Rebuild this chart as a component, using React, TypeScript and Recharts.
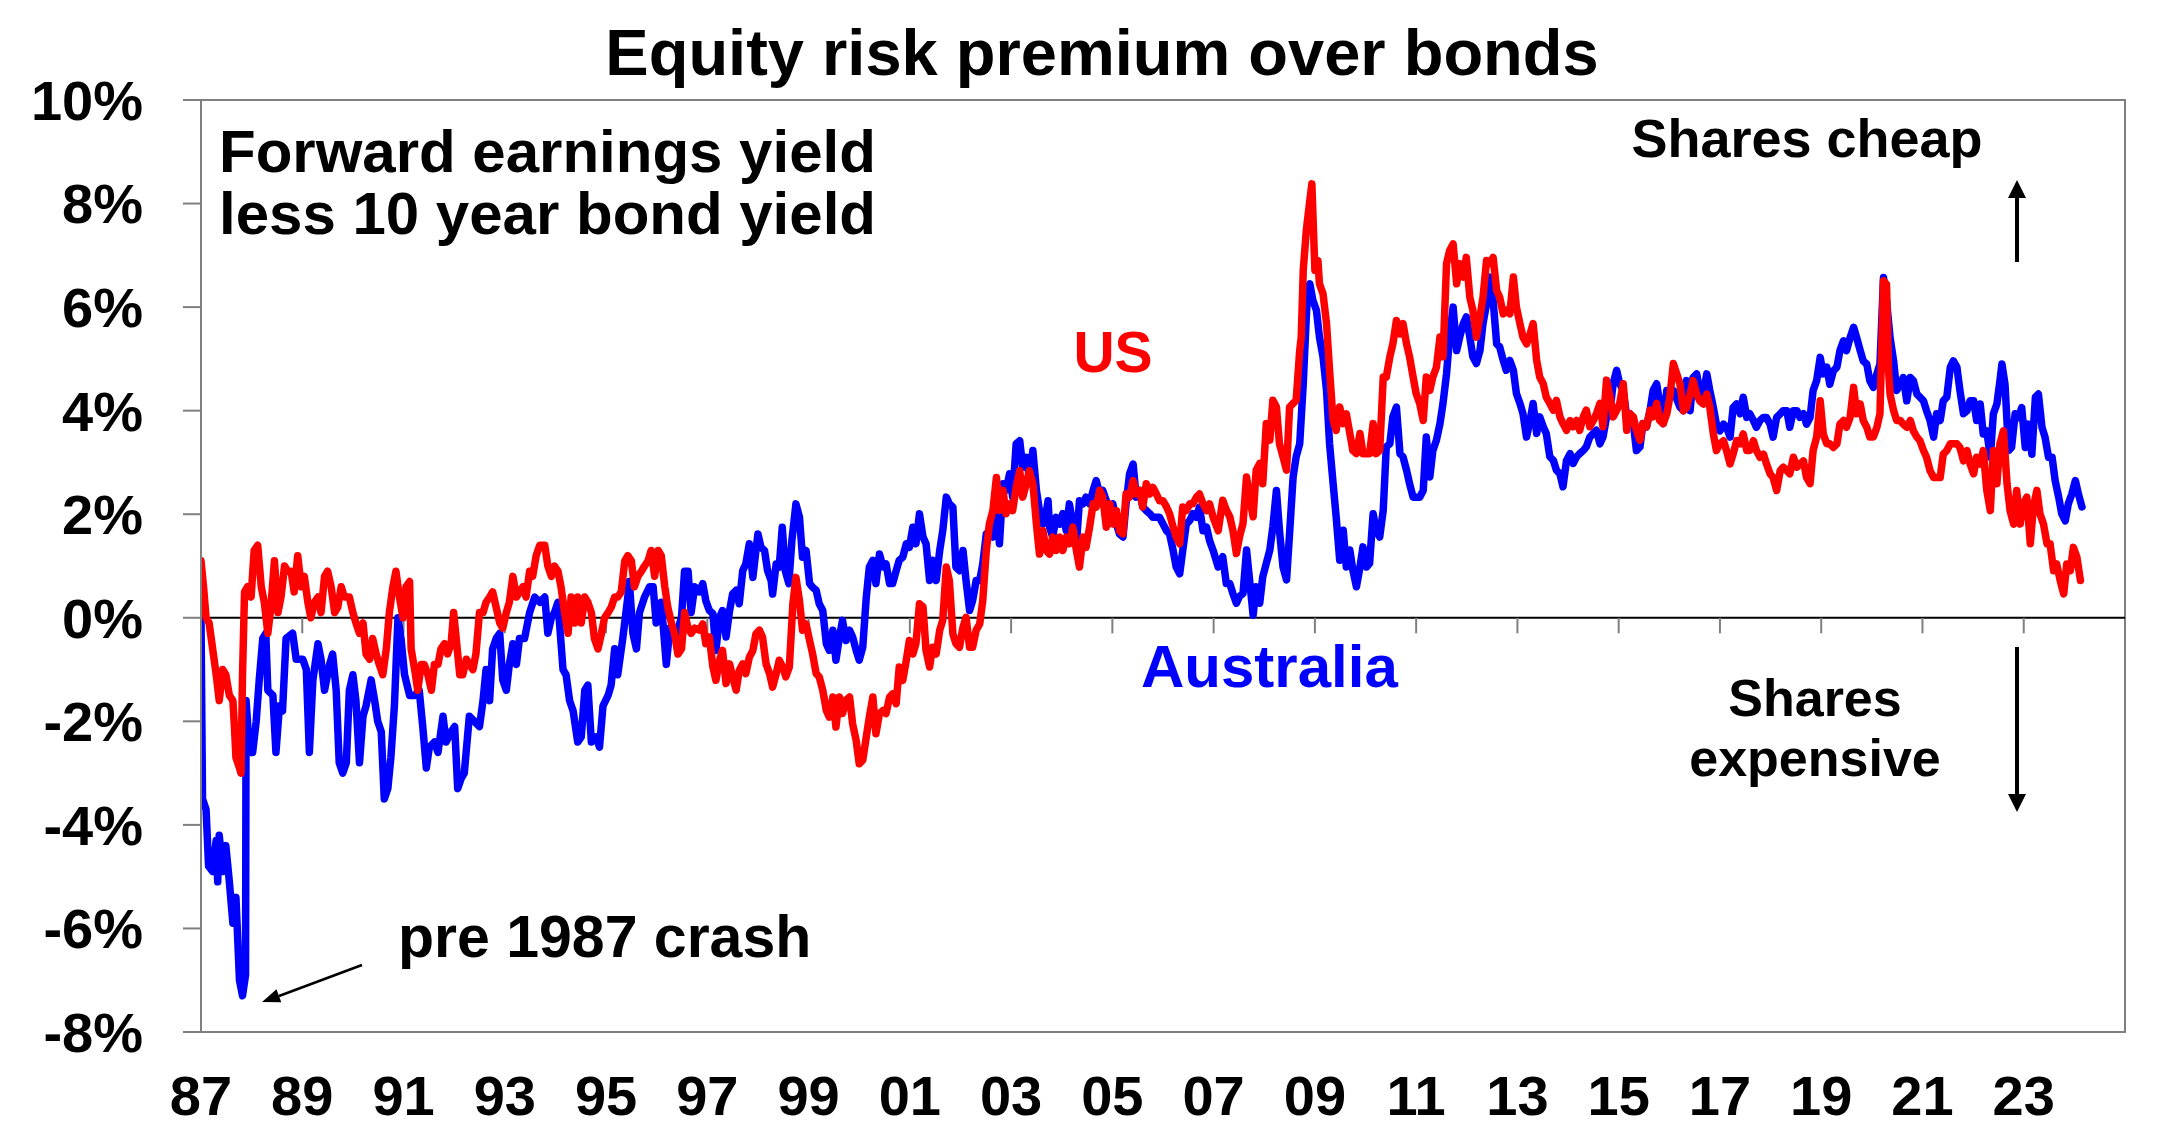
import { LineChart, Line, XAxis, YAxis, ReferenceLine, ReferenceArea } from 'recharts';

const FONT = '"Liberation Sans", Arial, Helvetica, sans-serif';
const AXIS_GREY = '#7f7f7f';

// Forward earnings yield less 10 year bond yield, [year, % points]
const AUSTRALIA: [number, number][] = [
  [1987.00, 0.0], [1987.03, -3.5], [1987.10, -3.7], [1987.15, -4.8], [1987.23, -4.9], [1987.30, -4.3],
  [1987.33, -5.1], [1987.36, -4.2], [1987.43, -4.9], [1987.49, -4.4], [1987.56, -5.1], [1987.63, -5.9],
  [1987.69, -5.4], [1987.76, -7.0], [1987.82, -7.3], [1987.88, -6.9], [1987.89, -1.6], [1987.96, -2.6],
  [1988.02, -2.6], [1988.09, -2.0], [1988.15, -1.2], [1988.22, -0.4], [1988.28, -0.3], [1988.32, -1.4],
  [1988.42, -1.5], [1988.48, -2.6], [1988.55, -1.7], [1988.61, -1.8], [1988.68, -0.4], [1988.81, -0.3],
  [1988.88, -0.8], [1989.01, -0.8], [1989.08, -1.0], [1989.14, -2.6], [1989.21, -1.2], [1989.31, -0.5],
  [1989.37, -0.8], [1989.44, -1.4], [1989.54, -0.9], [1989.60, -0.7], [1989.67, -1.4], [1989.73, -2.8],
  [1989.80, -3.0], [1989.87, -2.8], [1989.93, -1.4], [1990.00, -1.1], [1990.06, -1.6], [1990.13, -2.8],
  [1990.20, -1.9], [1990.26, -1.7], [1990.36, -1.2], [1990.43, -1.6], [1990.49, -2.0], [1990.56, -2.2],
  [1990.62, -3.5], [1990.69, -3.3], [1990.75, -2.7], [1990.82, -1.7], [1990.89, 0.0], [1990.95, -0.4],
  [1991.02, -1.1], [1991.12, -1.5], [1991.22, -1.5], [1991.31, -1.4], [1991.38, -2.1], [1991.45, -2.9],
  [1991.51, -2.5], [1991.61, -2.4], [1991.68, -2.6], [1991.78, -1.9], [1991.84, -2.4], [1991.94, -2.2],
  [1992.01, -2.1], [1992.07, -3.3], [1992.14, -3.1], [1992.20, -3.0], [1992.30, -1.9], [1992.40, -2.0],
  [1992.50, -2.1], [1992.57, -1.6], [1992.63, -1.0], [1992.70, -1.6], [1992.76, -0.6], [1992.83, -0.4],
  [1992.90, -0.3], [1992.96, -1.2], [1993.03, -1.4], [1993.09, -0.9], [1993.16, -0.5], [1993.23, -0.9],
  [1993.29, -0.4], [1993.39, -0.4], [1993.49, 0.1], [1993.59, 0.4], [1993.69, 0.3], [1993.79, 0.4],
  [1993.85, -0.3], [1993.92, 0.0], [1993.98, 0.1], [1994.05, 0.3], [1994.15, -1.0], [1994.21, -1.1],
  [1994.28, -1.6], [1994.35, -1.8], [1994.44, -2.4], [1994.51, -2.3], [1994.58, -1.4], [1994.64, -1.3],
  [1994.71, -2.4], [1994.81, -2.3], [1994.87, -2.5], [1994.94, -1.7], [1995.04, -1.5], [1995.10, -1.3],
  [1995.17, -0.6], [1995.23, -1.1], [1995.33, -0.4], [1995.43, 0.4], [1995.46, 0.7], [1995.53, -0.3],
  [1995.60, -0.6], [1995.66, 0.1], [1995.76, 0.4], [1995.86, 0.6], [1995.93, 0.6], [1995.99, -0.1],
  [1996.09, 0.3], [1996.19, -0.9], [1996.26, -0.2], [1996.32, -0.4], [1996.39, -0.3], [1996.49, 0.0],
  [1996.55, 0.9], [1996.62, 0.9], [1996.68, 0.1], [1996.75, 0.6],
  [1996.84, 0.5], [1996.91, 0.66], [1996.97, 0.33], [1997.04, 0.14], [1997.11, 0.08], [1997.17, -0.63],
  [1997.24, 0.0], [1997.30, 0.14], [1997.37, -0.37], [1997.44, 0.14], [1997.50, 0.46], [1997.57, 0.53],
  [1997.63, 0.27], [1997.70, 0.91], [1997.76, 1.04], [1997.83, 1.43], [1997.90, 0.78], [1997.96, 1.30],
  [1998.00, 1.62], [1998.06, 1.36], [1998.13, 1.30], [1998.19, 0.91], [1998.26, 0.72], [1998.29, 0.46],
  [1998.36, 1.04], [1998.42, 0.98], [1998.48, 1.75], [1998.54, 0.91], [1998.61, 0.66], [1998.67, 1.49],
  [1998.75, 2.20], [1998.82, 1.94], [1998.88, 1.17], [1998.95, 1.30], [1999.02, 0.66], [1999.08, 0.59],
  [1999.15, 0.53], [1999.21, 0.27], [1999.28, 0.14], [1999.35, -0.50], [1999.41, -0.63], [1999.48, -0.24],
  [1999.54, -0.82], [1999.61, -0.37], [1999.67, -0.05], [1999.74, -0.44], [1999.81, -0.24], [1999.87, -0.37],
  [1999.94, -0.63], [2000.00, -0.82], [2000.07, -0.57], [2000.14, 0.40], [2000.20, 0.98], [2000.27, 1.11],
  [2000.33, 0.66], [2000.40, 1.23], [2000.47, 0.98], [2000.53, 1.04], [2000.60, 0.66], [2000.66, 0.66],
  [2000.73, 0.91], [2000.79, 1.11], [2000.86, 1.17], [2000.93, 1.43], [2000.99, 1.36], [2001.06, 1.75],
  [2001.12, 1.43], [2001.19, 2.01], [2001.26, 1.56], [2001.32, 1.43], [2001.39, 0.72], [2001.45, 1.11],
  [2001.52, 0.72], [2001.59, 1.30], [2001.65, 1.68], [2001.72, 2.33], [2001.78, 2.20], [2001.85, 2.14],
  [2001.91, 0.98], [2001.98, 0.91], [2002.05, 1.30], [2002.11, 0.72], [2002.18, 0.14], [2002.24, 0.33],
  [2002.31, 0.72], [2002.38, 0.72], [2002.44, 1.04], [2002.51, 1.62], [2002.57, 1.68], [2002.64, 1.56],
  [2002.71, 2.07], [2002.77, 1.43], [2002.84, 2.59], [2002.90, 2.46], [2002.97, 2.78], [2003.03, 2.33],
  [2003.10, 3.36], [2003.17, 3.42], [2003.23, 2.91], [2003.30, 3.10], [2003.36, 2.71], [2003.43, 3.23],
  [2003.50, 2.46], [2003.56, 2.07], [2003.63, 1.81], [2003.69, 2.01], [2003.73, 2.26], [2003.76, 1.75],
  [2003.82, 1.56], [2003.89, 1.94], [2003.96, 1.81], [2004.02, 2.01], [2004.09, 1.68], [2004.15, 2.20],
  [2004.22, 1.81], [2004.29, 1.43], [2004.35, 2.26], [2004.42, 2.20], [2004.48, 2.33], [2004.55, 2.20],
  [2004.62, 2.46], [2004.68, 2.65], [2004.75, 2.39], [2004.81, 2.46], [2004.88, 2.26], [2004.95, 2.14],
  [2005.01, 2.20], [2005.08, 1.81], [2005.14, 1.62], [2005.21, 1.56], [2005.27, 2.20], [2005.34, 2.78],
  [2005.41, 2.97], [2005.47, 2.33], [2005.54, 2.46], [2005.60, 2.14], [2005.67, 2.07], [2005.74, 2.01],
  [2005.80, 1.94], [2005.87, 1.94], [2005.93, 1.94], [2006.00, 1.81], [2006.07, 1.68], [2006.13, 1.62],
  [2006.20, 1.30], [2006.26, 0.98], [2006.33, 0.85], [2006.39, 1.30], [2006.46, 1.81], [2006.53, 1.88],
  [2006.59, 2.01], [2006.66, 1.94], [2006.72, 2.14], [2006.79, 1.68], [2006.86, 1.75], [2006.92, 1.49],
  [2006.99, 1.30], [2007.09, 0.98],
  [2007.12, 1.05], [2007.18, 1.18], [2007.25, 0.66], [2007.32, 0.66], [2007.38, 0.47], [2007.45, 0.28],
  [2007.51, 0.41], [2007.58, 0.47], [2007.65, 1.31], [2007.71, 0.73], [2007.78, 0.05], [2007.84, 0.60],
  [2007.91, 0.28], [2007.97, 0.79], [2008.04, 1.05], [2008.11, 1.31], [2008.17, 1.76], [2008.24, 2.46],
  [2008.30, 1.69], [2008.37, 0.98], [2008.44, 0.73], [2008.50, 1.63], [2008.57, 2.72], [2008.63, 3.11],
  [2008.70, 3.36], [2008.77, 4.52], [2008.83, 5.81], [2008.86, 6.32], [2008.90, 6.45], [2008.96, 6.13],
  [2009.03, 5.94], [2009.09, 5.42], [2009.16, 5.04], [2009.23, 4.39], [2009.29, 3.36], [2009.36, 2.59],
  [2009.42, 1.95], [2009.49, 1.11], [2009.56, 1.69], [2009.62, 0.98], [2009.69, 1.31], [2009.75, 0.92],
  [2009.82, 0.60], [2009.89, 0.98], [2009.95, 1.37], [2010.02, 0.98], [2010.08, 1.05], [2010.15, 2.01],
  [2010.21, 1.69], [2010.28, 1.56], [2010.35, 2.08], [2010.41, 3.30], [2010.48, 3.36], [2010.54, 3.88],
  [2010.61, 4.07], [2010.68, 3.17], [2010.74, 3.11], [2010.81, 2.85], [2010.87, 2.59], [2010.94, 2.33],
  [2011.00, 2.33], [2011.07, 2.33], [2011.14, 2.46], [2011.20, 3.49], [2011.27, 2.72], [2011.33, 3.23],
  [2011.40, 3.43], [2011.47, 3.75], [2011.53, 4.14], [2011.60, 4.71], [2011.66, 5.42], [2011.73, 6.00],
  [2011.80, 5.16], [2011.86, 5.42], [2011.93, 5.68], [2011.99, 5.81], [2012.06, 5.42], [2012.12, 5.04],
  [2012.19, 4.91], [2012.26, 5.16], [2012.32, 5.68], [2012.39, 6.06], [2012.45, 6.58], [2012.52, 6.13],
  [2012.59, 5.29], [2012.65, 5.23], [2012.72, 4.97], [2012.78, 4.78], [2012.85, 4.97], [2012.92, 4.78],
  [2012.98, 4.33], [2013.05, 4.14], [2013.11, 3.94], [2013.18, 3.49], [2013.25, 3.81], [2013.31, 4.14],
  [2013.38, 3.56], [2013.44, 3.88], [2013.51, 3.69], [2013.57, 3.56], [2013.64, 3.11], [2013.71, 3.04],
  [2013.77, 2.85], [2013.84, 2.78], [2013.90, 2.53], [2013.97, 3.04], [2014.04, 3.17], [2014.10, 2.98],
  [2014.17, 3.11], [2014.23, 3.17], [2014.30, 3.23], [2014.36, 3.30], [2014.43, 3.49], [2014.50, 3.56],
  [2014.56, 3.62], [2014.63, 3.36], [2014.69, 3.49], [2014.76, 3.88], [2014.83, 4.01], [2014.89, 4.52],
  [2014.96, 4.78], [2015.02, 4.52], [2015.09, 4.39], [2015.16, 3.88], [2015.22, 3.94], [2015.29, 3.75],
  [2015.35, 3.23], [2015.42, 3.30], [2015.48, 3.75], [2015.55, 3.69], [2015.62, 4.01], [2015.68, 4.39],
  [2015.75, 4.52], [2015.81, 4.14], [2015.88, 3.75], [2015.95, 4.39], [2016.01, 4.33], [2016.08, 4.39],
  [2016.21, 4.07],
  [2016.28, 4.00], [2016.34, 4.58], [2016.41, 4.00], [2016.47, 4.64], [2016.54, 4.71], [2016.60, 4.39],
  [2016.67, 4.32], [2016.74, 4.71], [2016.80, 4.39], [2016.87, 4.06], [2016.93, 3.74], [2017.00, 3.61],
  [2017.07, 3.74], [2017.13, 3.68], [2017.20, 3.49], [2017.26, 4.06], [2017.33, 4.13], [2017.40, 3.94],
  [2017.46, 4.26], [2017.53, 3.87], [2017.59, 3.94], [2017.66, 3.81], [2017.72, 3.68], [2017.79, 3.81],
  [2017.86, 3.87], [2017.92, 3.87], [2017.99, 3.74], [2018.05, 3.49], [2018.12, 3.87], [2018.19, 3.94],
  [2018.25, 4.00], [2018.32, 4.00], [2018.38, 3.68], [2018.45, 4.00], [2018.52, 4.00], [2018.58, 3.87],
  [2018.65, 3.94], [2018.71, 3.74], [2018.78, 3.87], [2018.84, 4.39], [2018.91, 4.58], [2018.98, 5.03],
  [2019.04, 4.71], [2019.11, 4.84], [2019.17, 4.51], [2019.24, 4.77], [2019.31, 4.84], [2019.37, 5.16],
  [2019.44, 5.35], [2019.50, 5.16], [2019.57, 5.41], [2019.64, 5.61], [2019.70, 5.41], [2019.77, 5.16],
  [2019.83, 4.96], [2019.90, 4.90], [2019.96, 4.58], [2020.03, 4.45], [2020.10, 4.71], [2020.16, 4.90],
  [2020.23, 6.57], [2020.29, 6.12], [2020.36, 5.41], [2020.43, 4.96], [2020.49, 4.39], [2020.56, 4.51],
  [2020.62, 4.64], [2020.69, 4.19], [2020.76, 4.64], [2020.82, 4.58], [2020.89, 4.32], [2020.95, 4.26],
  [2021.02, 4.19], [2021.08, 4.00], [2021.15, 3.81], [2021.22, 3.49], [2021.28, 3.94], [2021.35, 3.81],
  [2021.41, 4.19], [2021.48, 4.26], [2021.55, 4.84], [2021.61, 4.96], [2021.68, 4.84], [2021.74, 4.39],
  [2021.81, 3.94], [2021.88, 4.00], [2021.94, 4.19], [2022.01, 4.19], [2022.07, 3.81], [2022.14, 4.13],
  [2022.20, 3.55], [2022.27, 3.61], [2022.34, 3.10], [2022.40, 3.94], [2022.47, 4.13], [2022.53, 4.58],
  [2022.57, 4.90], [2022.63, 4.51], [2022.70, 3.23], [2022.76, 3.29], [2022.83, 3.94], [2022.90, 3.87],
  [2022.96, 4.06], [2023.03, 3.29], [2023.09, 3.74], [2023.16, 3.16], [2023.23, 4.26], [2023.29, 4.32],
  [2023.36, 3.68], [2023.42, 3.49], [2023.49, 3.10], [2023.56, 3.10], [2023.62, 2.65], [2023.69, 2.33],
  [2023.75, 2.01], [2023.82, 1.87], [2023.88, 2.20], [2023.95, 2.39], [2024.02, 2.65], [2024.08, 2.39],
  [2024.15, 2.14],
];

const US: [number, number][] = [
  [1987.00, 1.1], [1987.05, 0.6], [1987.10, 0.0], [1987.16, -0.1], [1987.23, -0.6], [1987.30, -1.1],
  [1987.36, -1.6], [1987.43, -1.0], [1987.49, -1.1], [1987.56, -1.5], [1987.63, -1.6], [1987.66, -2.1],
  [1987.69, -2.7], [1987.76, -2.9], [1987.79, -3.0], [1987.82, -1.1], [1987.86, 0.5], [1987.92, 0.6],
  [1987.99, 0.4], [1988.05, 1.3], [1988.12, 1.4], [1988.19, 0.6], [1988.25, 0.3], [1988.32, -0.3],
  [1988.38, 0.2], [1988.45, 1.1], [1988.52, 0.1], [1988.58, 0.4], [1988.65, 1.0], [1988.71, 0.9],
  [1988.78, 0.9], [1988.84, 0.5], [1988.91, 1.2], [1988.98, 0.6], [1989.04, 0.8], [1989.11, 0.3],
  [1989.17, 0.0], [1989.24, 0.3], [1989.31, 0.4], [1989.37, 0.1], [1989.44, 0.8], [1989.50, 0.9],
  [1989.57, 0.6], [1989.64, 0.1], [1989.70, 0.2], [1989.77, 0.6], [1989.83, 0.4], [1989.93, 0.4],
  [1990.00, 0.1], [1990.06, -0.1], [1990.13, -0.3], [1990.20, -0.1], [1990.26, -0.7], [1990.33, -0.8],
  [1990.39, -0.4], [1990.46, -0.7], [1990.52, -0.9], [1990.59, -1.1], [1990.66, -0.6], [1990.72, 0.1],
  [1990.79, 0.6], [1990.85, 0.9], [1990.92, 0.4], [1990.99, 0.0], [1991.05, 0.6], [1991.12, 0.7],
  [1991.15, -0.6], [1991.22, -1.0], [1991.28, -1.4], [1991.35, -0.9], [1991.41, -0.9], [1991.48, -1.1],
  [1991.55, -1.4], [1991.61, -0.9], [1991.68, -0.9], [1991.74, -0.6], [1991.81, -0.5], [1991.87, -0.7],
  [1991.94, -0.5], [1991.99, 0.1], [1992.04, -0.4], [1992.11, -1.1], [1992.17, -1.1], [1992.24, -0.8],
  [1992.30, -0.9], [1992.37, -1.0], [1992.43, -0.7], [1992.50, 0.1], [1992.57, 0.1], [1992.63, 0.3],
  [1992.70, 0.4], [1992.76, 0.5], [1992.83, 0.2], [1992.90, -0.1], [1992.96, -0.2], [1993.03, 0.1],
  [1993.09, 0.3], [1993.16, 0.8], [1993.23, 0.4], [1993.29, 0.5], [1993.36, 0.6], [1993.42, 0.4],
  [1993.49, 0.9], [1993.55, 0.8], [1993.62, 1.2], [1993.69, 1.4], [1993.79, 1.4], [1993.85, 1.0],
  [1993.92, 0.8], [1993.98, 1.0], [1994.05, 0.9], [1994.11, 0.6], [1994.18, 0.1], [1994.25, -0.3],
  [1994.31, 0.4], [1994.38, -0.1], [1994.44, 0.4], [1994.51, -0.1], [1994.58, 0.4], [1994.64, 0.3],
  [1994.71, 0.1], [1994.77, -0.4], [1994.84, -0.6], [1994.91, -0.3], [1994.97, 0.0], [1995.04, 0.1],
  [1995.10, 0.2], [1995.17, 0.4], [1995.23, 0.4], [1995.30, 0.5], [1995.37, 1.1], [1995.43, 1.2],
  [1995.50, 1.1], [1995.56, 0.6], [1995.63, 0.8], [1995.70, 0.9], [1995.76, 1.0], [1995.83, 1.1],
  [1995.89, 1.3], [1995.96, 0.8], [1996.03, 1.3], [1996.09, 1.2], [1996.16, 0.6], [1996.22, 0.2],
  [1996.29, -0.1], [1996.35, -0.3], [1996.42, -0.7], [1996.49, -0.6], [1996.55, 0.1], [1996.62, -0.2],
  [1996.68, -0.3], [1996.75, -0.2],
  [1996.84, -0.24], [1996.91, -0.12], [1996.97, -0.50], [1997.04, -0.37], [1997.11, -0.95], [1997.17, -1.21],
  [1997.24, -0.82], [1997.30, -0.63], [1997.37, -1.27], [1997.44, -0.89], [1997.50, -1.14], [1997.57, -1.40],
  [1997.63, -1.02], [1997.70, -0.89], [1997.76, -1.08], [1997.83, -0.76], [1997.90, -0.63], [1997.96, -0.31],
  [1998.03, -0.24], [1998.09, -0.37], [1998.16, -0.89], [1998.23, -1.08], [1998.29, -1.34], [1998.36, -1.08],
  [1998.42, -0.82], [1998.49, -0.95], [1998.55, -1.14], [1998.62, -0.95], [1998.69, 0.27], [1998.75, 0.78],
  [1998.82, 0.33], [1998.88, -0.24], [1998.95, -0.12], [1999.02, -0.44], [1999.08, -0.70], [1999.15, -1.08],
  [1999.21, -1.14], [1999.28, -1.40], [1999.35, -1.79], [1999.41, -1.92], [1999.48, -1.53], [1999.54, -2.11],
  [1999.61, -1.53], [1999.67, -1.85], [1999.74, -1.59], [1999.81, -1.53], [1999.87, -2.05], [1999.94, -2.37],
  [2000.00, -2.82], [2000.07, -2.75], [2000.14, -2.30], [2000.20, -1.92], [2000.27, -1.53], [2000.33, -2.24],
  [2000.40, -1.85], [2000.47, -1.79], [2000.53, -1.85], [2000.60, -1.53], [2000.66, -1.47], [2000.73, -1.66],
  [2000.79, -0.95], [2000.86, -1.21], [2000.93, -0.82], [2000.99, -0.44], [2001.06, -0.70], [2001.12, -0.50],
  [2001.19, 0.27], [2001.26, 0.21], [2001.32, -0.63], [2001.39, -0.95], [2001.45, -0.57], [2001.52, -0.70],
  [2001.59, -0.24], [2001.65, -0.05], [2001.72, 0.98], [2001.78, 0.72], [2001.85, -0.31], [2001.91, -0.50],
  [2001.98, -0.57], [2002.05, -0.18], [2002.11, 0.01], [2002.18, -0.57], [2002.24, -0.57], [2002.31, -0.24],
  [2002.38, -0.12], [2002.44, 0.33], [2002.51, 1.30], [2002.57, 1.81], [2002.64, 2.07], [2002.71, 2.71],
  [2002.77, 2.07], [2002.84, 2.46], [2002.90, 2.01], [2002.97, 2.20], [2003.03, 2.07], [2003.10, 2.52],
  [2003.17, 2.84], [2003.23, 2.33], [2003.30, 2.59], [2003.36, 2.84], [2003.43, 2.59], [2003.50, 1.81],
  [2003.56, 1.23], [2003.63, 1.68], [2003.69, 1.30], [2003.76, 1.23], [2003.82, 1.56], [2003.89, 1.30],
  [2003.96, 1.56], [2004.02, 1.30], [2004.09, 1.56], [2004.15, 1.43], [2004.22, 1.75], [2004.29, 1.30],
  [2004.35, 0.98], [2004.42, 1.56], [2004.48, 1.36], [2004.55, 1.75], [2004.62, 2.20], [2004.68, 2.14],
  [2004.75, 2.46], [2004.81, 2.33], [2004.88, 1.75], [2004.95, 2.20], [2005.01, 1.81], [2005.08, 2.07],
  [2005.14, 1.68], [2005.21, 1.62], [2005.27, 2.39], [2005.34, 2.33], [2005.41, 2.65], [2005.47, 2.39],
  [2005.54, 2.46], [2005.60, 2.14], [2005.67, 2.59], [2005.74, 2.39], [2005.80, 2.52], [2005.87, 2.39],
  [2005.93, 2.26], [2006.00, 2.26], [2006.07, 2.14], [2006.13, 2.01], [2006.20, 1.75], [2006.26, 1.56],
  [2006.33, 1.43], [2006.39, 2.14], [2006.46, 2.07], [2006.53, 2.20], [2006.59, 2.20], [2006.66, 2.33],
  [2006.72, 2.39], [2006.79, 2.20], [2006.86, 2.07], [2006.92, 2.20], [2006.99, 1.94], [2007.09, 1.68],
  [2007.12, 1.88], [2007.18, 2.27], [2007.25, 2.08], [2007.32, 1.95], [2007.38, 1.69], [2007.45, 1.24],
  [2007.51, 1.56], [2007.58, 1.82], [2007.65, 2.72], [2007.71, 2.33], [2007.78, 1.95], [2007.84, 2.85],
  [2007.91, 2.98], [2007.97, 2.59], [2008.04, 3.75], [2008.11, 3.43], [2008.17, 4.20], [2008.24, 4.07],
  [2008.30, 3.36], [2008.37, 3.11], [2008.44, 2.85], [2008.50, 4.07], [2008.57, 4.14], [2008.63, 4.20],
  [2008.70, 5.16], [2008.73, 5.42], [2008.77, 6.71], [2008.83, 7.48], [2008.90, 8.06], [2008.94, 8.38],
  [2009.00, 6.71], [2009.06, 6.90], [2009.09, 6.45], [2009.16, 6.26], [2009.23, 5.68], [2009.29, 4.78],
  [2009.36, 3.81], [2009.42, 3.62], [2009.49, 4.07], [2009.56, 3.75], [2009.62, 3.94], [2009.69, 3.56],
  [2009.75, 3.23], [2009.82, 3.17], [2009.89, 3.56], [2009.95, 3.17], [2010.02, 3.17], [2010.08, 3.17],
  [2010.15, 3.75], [2010.21, 3.17], [2010.28, 3.23], [2010.35, 4.65], [2010.41, 4.65], [2010.48, 5.04],
  [2010.54, 5.29], [2010.61, 5.74], [2010.68, 5.48], [2010.74, 5.68], [2010.81, 5.29], [2010.87, 5.04],
  [2010.94, 4.65], [2011.00, 4.33], [2011.07, 4.14], [2011.14, 3.81], [2011.20, 4.65], [2011.27, 4.39],
  [2011.33, 4.65], [2011.40, 4.84], [2011.47, 5.42], [2011.53, 5.04], [2011.60, 6.84], [2011.66, 7.09],
  [2011.73, 7.22], [2011.80, 6.45], [2011.86, 6.84], [2011.93, 6.58], [2011.99, 6.96], [2012.06, 6.19],
  [2012.12, 5.94], [2012.19, 5.42], [2012.26, 5.81], [2012.32, 6.19], [2012.39, 6.90], [2012.45, 6.84],
  [2012.52, 6.96], [2012.59, 6.32], [2012.65, 6.19], [2012.72, 5.87], [2012.78, 5.94], [2012.85, 5.87],
  [2012.92, 6.58], [2012.98, 6.00], [2013.05, 5.68], [2013.11, 5.42], [2013.18, 5.29], [2013.25, 5.48],
  [2013.31, 5.68], [2013.38, 4.97], [2013.44, 4.65], [2013.51, 4.52], [2013.57, 4.26], [2013.64, 4.14],
  [2013.71, 4.01], [2013.77, 4.20], [2013.84, 3.88], [2013.90, 3.75], [2013.97, 3.62], [2014.04, 3.81],
  [2014.10, 3.69], [2014.17, 3.81], [2014.23, 3.62], [2014.30, 3.88], [2014.36, 4.01], [2014.43, 3.69],
  [2014.50, 3.81], [2014.56, 3.94], [2014.63, 4.14], [2014.69, 3.69], [2014.76, 4.59], [2014.83, 4.26],
  [2014.89, 3.88], [2014.96, 4.01], [2015.02, 4.14], [2015.09, 4.52], [2015.16, 3.62], [2015.22, 3.94],
  [2015.29, 3.88], [2015.35, 3.62], [2015.42, 3.43], [2015.48, 3.75], [2015.55, 3.69], [2015.62, 4.01],
  [2015.68, 3.88], [2015.75, 4.14], [2015.81, 3.81], [2015.88, 3.75], [2015.95, 3.94], [2016.01, 4.26],
  [2016.08, 4.91], [2016.21, 4.52],
  [2016.28, 4.00], [2016.34, 4.06], [2016.41, 4.32], [2016.47, 4.58], [2016.54, 4.32], [2016.60, 4.19],
  [2016.67, 4.13], [2016.74, 4.32], [2016.80, 4.06], [2016.87, 3.55], [2016.93, 3.23], [2017.00, 3.36],
  [2017.07, 3.42], [2017.13, 3.23], [2017.20, 2.97], [2017.26, 3.16], [2017.33, 3.42], [2017.40, 3.36],
  [2017.46, 3.55], [2017.53, 3.23], [2017.59, 3.23], [2017.66, 3.42], [2017.72, 3.23], [2017.79, 3.10],
  [2017.86, 3.16], [2017.92, 2.97], [2017.99, 2.78], [2018.05, 2.71], [2018.12, 2.46], [2018.19, 2.84],
  [2018.25, 2.91], [2018.32, 2.84], [2018.38, 2.78], [2018.45, 3.10], [2018.52, 2.91], [2018.58, 2.97],
  [2018.65, 3.03], [2018.71, 2.71], [2018.78, 2.59], [2018.84, 3.23], [2018.91, 3.49], [2018.98, 4.19],
  [2019.04, 3.55], [2019.11, 3.36], [2019.17, 3.36], [2019.24, 3.29], [2019.31, 3.36], [2019.37, 3.74],
  [2019.44, 3.81], [2019.50, 3.68], [2019.57, 3.87], [2019.64, 4.45], [2019.70, 3.94], [2019.77, 4.13],
  [2019.83, 3.81], [2019.90, 3.68], [2019.96, 3.49], [2020.03, 3.49], [2020.10, 3.68], [2020.16, 3.94],
  [2020.23, 6.51], [2020.29, 6.44], [2020.33, 4.77], [2020.36, 4.32], [2020.43, 4.00], [2020.49, 3.81],
  [2020.56, 3.81], [2020.62, 3.74], [2020.69, 3.68], [2020.76, 3.81], [2020.82, 3.61], [2020.89, 3.49],
  [2020.95, 3.42], [2021.02, 3.23], [2021.08, 3.10], [2021.15, 2.84], [2021.22, 2.71], [2021.28, 2.71],
  [2021.35, 2.71], [2021.41, 3.16], [2021.48, 3.23], [2021.55, 3.36], [2021.61, 3.36], [2021.68, 3.36],
  [2021.74, 3.29], [2021.81, 3.03], [2021.88, 3.23], [2021.94, 2.97], [2022.01, 2.78], [2022.07, 3.10],
  [2022.14, 2.97], [2022.20, 3.23], [2022.27, 2.46], [2022.34, 2.07], [2022.40, 3.23], [2022.47, 2.59],
  [2022.53, 3.36], [2022.60, 3.61], [2022.67, 2.59], [2022.73, 2.07], [2022.80, 1.81], [2022.86, 2.46],
  [2022.93, 1.81], [2022.99, 2.20], [2023.06, 2.33], [2023.13, 1.43], [2023.19, 2.14], [2023.26, 2.46],
  [2023.32, 2.01], [2023.39, 1.81], [2023.46, 1.43], [2023.52, 1.43], [2023.59, 0.91], [2023.65, 1.04],
  [2023.72, 0.72], [2023.79, 0.46], [2023.85, 1.04], [2023.92, 0.91], [2023.98, 1.36], [2024.05, 1.17],
  [2024.12, 0.72],
];

const Y_TICKS = [-8, -6, -4, -2, 0, 2, 4, 6, 8, 10];
const X_TICKS = [1987, 1989, 1991, 1993, 1995, 1997, 1999, 2001, 2003, 2005, 2007, 2009, 2011, 2013, 2015, 2017, 2019, 2021, 2023];

const auData = AUSTRALIA.map(([t, v]) => ({ t, v }));
const usData = US.map(([t, v]) => ({ t, v }));

/* eslint-disable @typescript-eslint/no-explicit-any */
function YearTick(props: any) {
  const { x, y, payload } = props;
  const label = String(payload.value % 100).padStart(2, '0');
  return (
    <text x={x} y={y} dy={81} textAnchor="middle" fontSize={56} fontWeight="bold" fontFamily={FONT} fill="#000">
      {label}
    </text>
  );
}

export default function App() {
  const textStyle = { fontFamily: FONT, fontWeight: 700 } as const;
  return (
    <div style={{ position: 'absolute', left: 0, top: 0, width: 2173, height: 1135, background: '#fff' }}>
      <LineChart width={2173} height={1135} margin={{ top: 100, right: 48, bottom: 13, left: 11 }}>
        <ReferenceArea x1={1987} x2={2025} y1={-8} y2={10} fill="none" stroke={AXIS_GREY} strokeWidth={2} />
        <XAxis
          type="number"
          dataKey="t"
          domain={[1987, 2025]}
          ticks={X_TICKS}
          allowDataOverflow
          axisLine={false}
          tickLine={false}
          tickSize={0}
          height={90}
          tick={<YearTick />}
          interval={0}
        />
        <YAxis
          type="number"
          domain={[-8, 10]}
          ticks={Y_TICKS}
          interval={0}
          width={190}
          axisLine={{ stroke: AXIS_GREY, strokeWidth: 2 }}
          tickLine={{ stroke: AXIS_GREY, strokeWidth: 2 }}
          tickSize={18}
          tickMargin={40}
          tickFormatter={(v: number) => `${v}%`}
          tick={{ fontSize: 56, fontWeight: 'bold', fill: '#000', fontFamily: FONT }}
        />
        <ReferenceLine y={0} stroke="#000" strokeWidth={2} />
        {X_TICKS.slice(1).map((yr) => (
          <ReferenceLine
            key={yr}
            segment={[{ x: yr, y: 0 }, { x: yr, y: -0.3 }]}
            stroke={AXIS_GREY}
            strokeWidth={2}
          />
        ))}
        <Line
          data={auData}
          dataKey="v"
          type="linear"
          stroke="#0000ff"
          strokeWidth={7.5}
          strokeLinejoin="round"
          strokeLinecap="round"
          dot={false}
          isAnimationActive={false}
        />
        <Line
          data={usData}
          dataKey="v"
          type="linear"
          stroke="#ff0000"
          strokeWidth={7.5}
          strokeLinejoin="round"
          strokeLinecap="round"
          dot={false}
          isAnimationActive={false}
        />
      </LineChart>

      <svg
        width={2173}
        height={1135}
        style={{ position: 'absolute', left: 0, top: 0, pointerEvents: 'none' }}
      >
        <text x={1102} y={75} textAnchor="middle" fontSize={65} fill="#000" style={textStyle}>
          Equity risk premium over bonds
        </text>
        <text x={219} y={172} fontSize={60} fill="#000" style={textStyle}>
          <tspan x={219} y={172}>Forward earnings yield</tspan>
          <tspan x={219} y={234}>less 10 year bond yield</tspan>
        </text>
        <text x={1113} y={372} textAnchor="middle" fontSize={57} fill="#ff0000" style={textStyle}>US</text>
        <text x={1141} y={687} fontSize={60} fill="#0000ff" style={textStyle}>Australia</text>
        <text x={1807} y={157} textAnchor="middle" fontSize={54} fill="#000" style={textStyle}>Shares cheap</text>
        <text x={1815} y={716} textAnchor="middle" fontSize={52} fill="#000" style={textStyle}>Shares</text>
        <text x={1815} y={776} textAnchor="middle" fontSize={52} fill="#000" style={textStyle}>expensive</text>
        <text x={398} y={957} fontSize={59} fill="#000" style={textStyle}>pre 1987 crash</text>

        {/* up arrow */}
        <line x1={2017} y1={262} x2={2017} y2={196} stroke="#000" strokeWidth={4} />
        <polygon points="2017,180 2008,198 2026,198" fill="#000" />
        {/* down arrow */}
        <line x1={2017} y1={647} x2={2017} y2={796} stroke="#000" strokeWidth={4} />
        <polygon points="2017,812 2008,794 2026,794" fill="#000" />
        {/* crash arrow */}
        <line x1={362} y1={965} x2={279} y2={996} stroke="#000" strokeWidth={2.5} />
        <polygon points="262,1002 281.3,1002.3 276.5,989.2" fill="#000" />
      </svg>
    </div>
  );
}
